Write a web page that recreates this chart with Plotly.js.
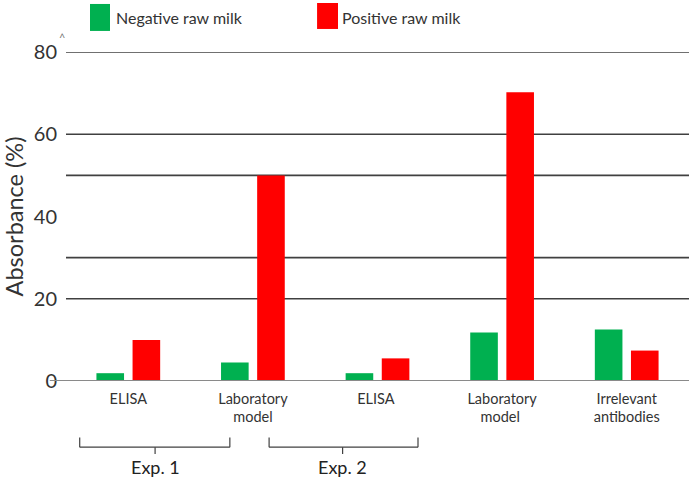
<!DOCTYPE html>
<html>
<head>
<meta charset="utf-8">
<script src="https://cdn.plot.ly/plotly-3.0.1.min.js"></script>
<style>html,body{margin:0;padding:0;background:#fff;}#chart{width:689px;height:481px;}</style>
</head>
<body>
<div id="chart"></div>
<script>
// ---- data ----
var categories = ["ELISA", "Laboratory<br>model", "ELISA ", "Laboratory<br>model ", "Irrelevant<br>antibodies"];
var seriesNames = ["Negative raw milk", "Positive raw milk"];
var negativeValues = [1.9, 4.5, 1.9, 11.8, 12.5];
var positiveValues = [10, 50, 5.5, 70.2, 7.4];
var yTickValues = [0, 20, 40, 60, 80];
var gridValues = [20, 30, 50, 60, 80];
var groupLabels = ["Exp. 1", "Exp. 2"];

var FONT = "Lato, 'Open Sans', sans-serif";
var GREEN = "#00B050", RED = "#FF0000";

var traces = [
  {type: "bar", name: seriesNames[0], x: categories, y: negativeValues, marker: {color: GREEN}, hoverinfo: "y"},
  {type: "bar", name: seriesNames[1], x: categories, y: positiveValues, marker: {color: RED}, hoverinfo: "y"}
];

var shapes = [];
gridValues.forEach(function (v) {
  shapes.push({type: "line", xref: "paper", yref: "y", x0: 0, x1: 1, y0: v, y1: v,
    line: {color: "#404040", width: 1.6}, layer: "below"});
});
// zero/base line
shapes.push({type: "line", xref: "paper", yref: "y", x0: -0.026, x1: 1, y0: 0, y1: 0,
  line: {color: "#8a8a8a", width: 2}, layer: "above"});

// brackets under the category labels
var brackets = [
  {x0: -0.39, x1: 0.815, xm: 0.215},
  {x0: 1.13, x1: 2.325, xm: 1.72}
];
var bTop = -0.172, bMid = -0.201, bLow = -0.222;
var bLine = {color: "#404040", width: 1.2};
brackets.forEach(function (b) {
  shapes.push({type: "line", xref: "x", yref: "paper", x0: b.x0, x1: b.x0, y0: bTop, y1: bMid, line: bLine});
  shapes.push({type: "line", xref: "x", yref: "paper", x0: b.x1, x1: b.x1, y0: bTop, y1: bMid, line: bLine});
  shapes.push({type: "line", xref: "x", yref: "paper", x0: b.x0, x1: b.x1, y0: bMid, y1: bMid, line: bLine});
  shapes.push({type: "line", xref: "x", yref: "paper", x0: b.xm, x1: b.xm, y0: bMid, y1: bLow, line: bLine});
});

// custom legend swatches
shapes.push({type: "rect", xref: "paper", yref: "paper", x0: 0.0385, x1: 0.0706, y0: 1.064, y1: 1.146,
  fillcolor: GREEN, line: {width: 0}});
shapes.push({type: "rect", xref: "paper", yref: "paper", x0: 0.403, x1: 0.4366, y0: 1.070, y1: 1.149,
  fillcolor: RED, line: {width: 0}});

var annotations = [
  {xref: "paper", yref: "paper", x: 0.077, y: 1.105, xanchor: "left", yanchor: "middle", showarrow: false,
    text: seriesNames[0], font: {family: FONT, size: 16, color: "#333"}},
  {xref: "paper", yref: "paper", x: 0.44, y: 1.105, xanchor: "left", yanchor: "middle", showarrow: false,
    text: seriesNames[1], font: {family: FONT, size: 16, color: "#333"}},
  {xref: "paper", yref: "paper", x: -0.006, y: 1.045, xanchor: "center", yanchor: "middle", showarrow: false,
    text: "^", font: {family: FONT, size: 11, color: "#777"}}
];
brackets.forEach(function (b, i) {
  annotations.push({xref: "x", yref: "paper", x: b.xm, y: -0.262, xanchor: "center", yanchor: "middle",
    showarrow: false, text: groupLabels[i], font: {family: FONT, size: 18, color: "#222"}});
});

var layout = {
  width: 689, height: 481,
  margin: {l: 66, r: 0, t: 52, b: 100, pad: 0},
  paper_bgcolor: "#fff", plot_bgcolor: "#fff",
  showlegend: false,
  barmode: "group", bargap: 0.42, bargroupgap: 0.236,
  font: {family: FONT, color: "#333"},
  xaxis: {
    type: "category", range: [-0.5, 4.5], showgrid: false, zeroline: false, showline: false,
    ticks: "", tickfont: {family: FONT, size: 14.5, color: "#333"}, ticklabelstandoff: 7
  },
  yaxis: {
    range: [0, 80], tickvals: yTickValues, ticktext: yTickValues.map(String),
    showgrid: false, zeroline: false, showline: false, ticks: "",
    tickfont: {family: FONT, size: 20, color: "#333"}, ticklabelstandoff: 8,
    title: {text: "Absorbance (%)", font: {family: FONT, size: 23.5, color: "#333"}, standoff: 4}
  },
  shapes: shapes,
  annotations: annotations
};

Plotly.newPlot("chart", traces, layout, {displayModeBar: false, staticPlot: true});
</script>
</body>
</html>
